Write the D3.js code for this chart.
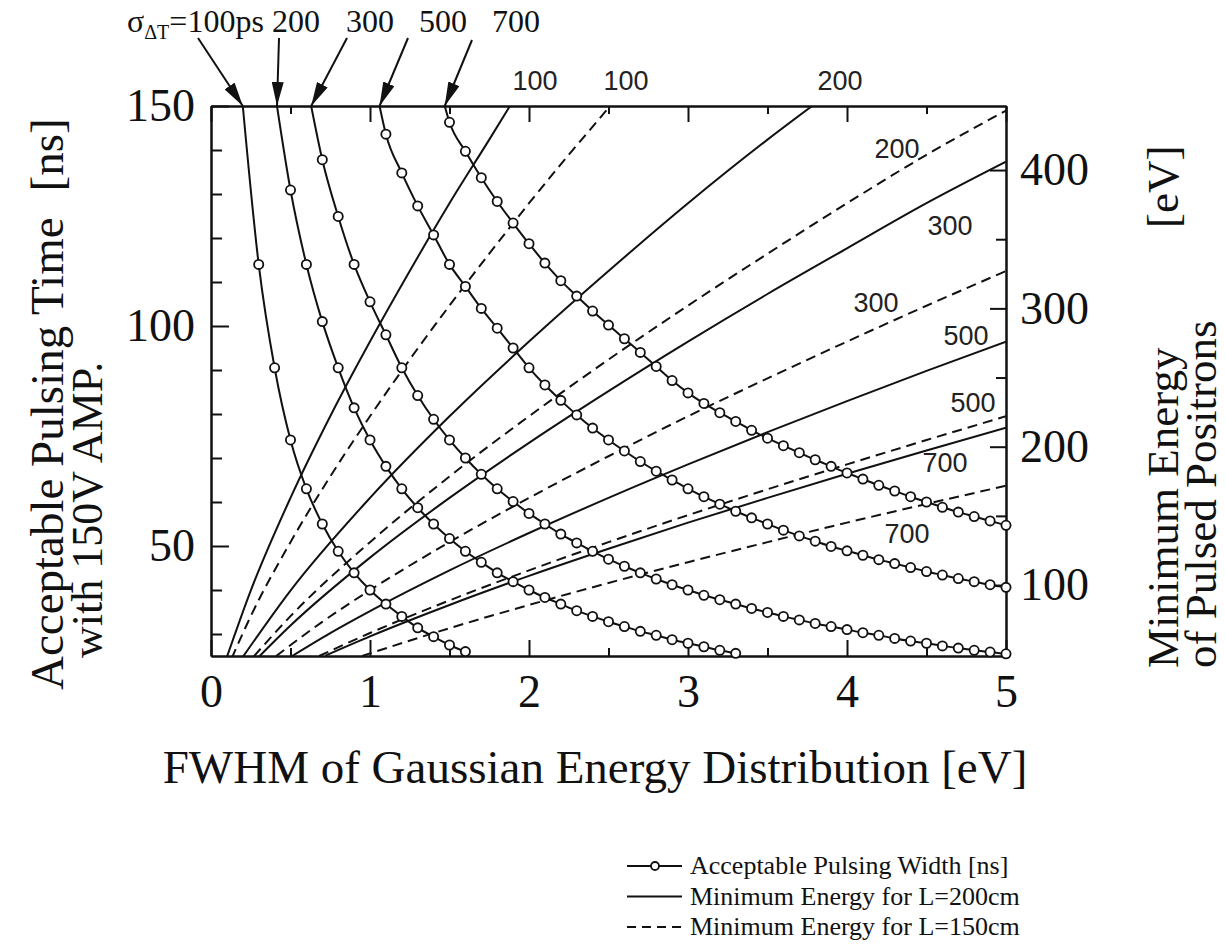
<!DOCTYPE html>
<html lang="en">
<head>
<meta charset="UTF-8">
<title>Acceptable Pulsing Time vs FWHM</title>
<script src="https://d3js.org/d3.v7.min.js"></script>
<style>
  body { margin: 0; background: #fff; }
  svg { display: block; background: #fff; }
  .serif { font-family: "Liberation Serif", "Times New Roman", serif; fill: #111; }
  .sans { font-family: "Liberation Sans", Arial, sans-serif; fill: #222; }
  .curve { fill: none; stroke: #111; stroke-width: 2; }
  .dash { stroke-dasharray: 10,6; }
  .axis path, .axis line { stroke: #111; stroke-width: 2; }
  .dot { fill: #fff; stroke: #111; stroke-width: 1.8; }
</style>
</head>
<body>
<svg width="1225" height="945"></svg>
<script>
// ---- data ----
// acceptable pulsing width [ns] vs FWHM [eV], one series per sigma_dT
const sigmas = [100, 200, 300, 500, 700];

const pw100 = [[0.2,150],[0.3,114],[0.4,90.5],[0.5,74.1],[0.6,63],[0.7,55],[0.8,48.8],[0.9,43.9],
  [1.0,40],[1.1,36.8],[1.2,34],[1.3,31.4],[1.4,29.4],[1.5,27.5],[1.6,26]];

const pw200 = [[0.415,150],[0.5,130.9],[0.6,114],[0.7,101],[0.8,90.5],[0.9,81.4],[1.0,74.1],[1.1,68.1],
  [1.2,63],[1.3,58.7],[1.4,55],[1.5,51.7],[1.6,48.8],[1.7,46.3],[1.8,43.9],[1.9,41.9],[2.0,40],
  [2.1,38.3],[2.2,36.8],[2.3,35.3],[2.4,34],[2.5,32.8],[2.6,31.7],[2.7,30.6],[2.8,29.7],[2.9,28.7],
  [3.0,27.9],[3.1,27.1],[3.2,26.3],[3.3,25.6]];

const pw300 = [[0.63,150],[0.7,137.8],[0.8,124.9],[0.9,114],[1.0,105.5],[1.1,98],[1.2,90.5],[1.3,84.2],
  [1.4,78.8],[1.5,74.1],[1.6,70],[1.7,66.3],[1.8,63],[1.9,60.1],[2.0,57.4],[2.1,55],[2.2,52.7],
  [2.3,50.7],[2.4,48.8],[2.5,47],[2.6,45.4],[2.7,43.9],[2.8,42.5],[2.9,41.2],[3.0,40],[3.1,38.8],
  [3.2,37.8],[3.3,36.8],[3.4,35.8],[3.5,34.9],[3.6,34],[3.7,33.2],[3.8,32.4],[3.9,31.7],[4.0,31],
  [4.1,30.3],[4.2,29.7],[4.3,29],[4.4,28.4],[4.5,27.9],[4.6,27.3],[4.7,26.8],[4.8,26.3],[4.9,25.9],
  [5.0,25.5]];

const pw500 = [[1.06,150],[1.1,143.6],[1.2,134.8],[1.3,127.3],[1.4,120.7],[1.5,114],[1.6,109],[1.7,104],
  [1.8,99.5],[1.9,95],[2.0,90.5],[2.1,86.6],[2.2,83.1],[2.3,79.8],[2.4,76.8],[2.5,74.1],[2.6,71.6],
  [2.7,69.2],[2.8,67],[2.9,65],[3.0,63],[3.1,61.2],[3.2,59.5],[3.3,57.9],[3.4,56.4],[3.5,55],
  [3.6,53.6],[3.7,52.3],[3.8,51.1],[3.9,49.9],[4.0,48.9],[4.1,47.9],[4.2,46.9],[4.3,46],[4.4,45.1],
  [4.5,44.2],[4.6,43.4],[4.7,42.6],[4.8,41.9],[4.9,41.2],[5.0,40.6]];

const pw700 = [[1.47,150],[1.5,146.3],[1.6,139.7],[1.7,133.7],[1.8,128.3],[1.9,123.4],[2.0,118.7],
  [2.1,114.3],[2.2,110.3],[2.3,106.8],[2.4,103.4],[2.5,100.2],[2.6,97.1],[2.7,94],[2.8,90.8],
  [2.9,87.6],[3.0,84.8],[3.1,82.4],[3.2,80.3],[3.3,78.3],[3.4,76.3],[3.5,74.5],[3.6,72.8],[3.7,71.2],
  [3.8,69.6],[3.9,68.1],[4.0,66.6],[4.1,65.2],[4.2,63.8],[4.3,62.5],[4.4,61.2],[4.5,60],[4.6,58.8],
  [4.7,57.7],[4.8,56.7],[4.9,55.7],[5.0,54.7]];

// minimum energy [eV] vs FWHM [eV]; solid = L 200 cm, dashed = L 150 cm
const eS100 = [[0.1,48],[0.25,96],[0.5,163],[0.75,222],[1.0,276],[1.25,327],[1.5,376],[1.75,422],[1.9,450]];
const eS200 = [[0.2,48],[0.5,96],[1.0,163],[1.5,222],[2.0,276],[2.5,327],[3.0,376],[3.5,422],[3.8,448]];
const eS300 = [[0.3,48],[0.5,70.7],[1.0,119.8],[1.5,163],[2.0,202.8],[2.5,240.2],[3.0,276],[3.5,310.4],
  [4.0,343.4],[4.5,376],[5.0,406]];
const eS500 = [[0.51,48.7],[0.75,65.3],[1.0,81.2],[1.5,110.6],[2.0,137.6],[2.5,163],[3.0,187.2],[3.5,210.5],
  [4.0,233],[4.5,254.8],[5.0,276]];
const eS700 = [[0.72,49],[1.0,62.9],[1.5,85.6],[2.0,106.6],[2.5,126.2],[3.0,145.1],[3.5,163],[4.0,180.4],
  [4.5,197.3],[5.0,213.8]];

const eD100 = [[0.13,47],[0.25,77.5],[0.5,131],[0.75,178.5],[1.0,222],[1.25,263],[1.5,302],[1.75,339.5],
  [2.0,376],[2.25,411],[2.5,445],[2.55,452]];
const eD200 = [[0.27,48.5],[0.5,77.5],[1.0,131],[1.5,178.5],[2.0,222],[2.5,263],[3.0,302],[3.5,339.5],
  [4.0,376],[4.5,411],[5.0,443]];
const eD300 = [[0.41,48.7],[0.7,73.4],[1.0,96.3],[1.5,131],[2.0,163],[2.5,193.1],[3.0,222],[3.5,249.4],
  [4.0,276],[4.5,301.9],[5.0,327]];
const eD500 = [[0.68,48.7],[1.0,65.3],[1.5,88.9],[2.0,110.6],[2.5,131],[3.0,150.5],[3.5,169.2],[4.0,187.2],
  [4.5,204.8],[5.0,222]];
const eD700 = [[0.95,48.7],[1.5,68.8],[2.0,85.6],[2.5,101.5],[3.0,116.5],[3.5,131],[4.0,145.1],[4.5,158.6],
  [5.0,171.8]];

// ticks
const xMajor = [0, 1, 2, 3, 4, 5];
const xMinor = [0.5, 1.5, 2.5, 3.5, 4.5];
const tMajor = [50, 100, 150];
const tMinor = [30, 40, 60, 70, 80, 90, 110, 120, 130, 140];
const eMajor = [100, 200, 300, 400];
const eMinor = [150, 250, 350];

// ---- layout ----
const svg = d3.select("svg");
const plot = { left: 211, right: 1006, top: 106, bottom: 656 };

const x = d3.scaleLinear().domain([0, 5]).range([plot.left, plot.right]);
const yT = d3.scaleLinear().domain([25, 150]).range([plot.bottom, plot.top]);
const yE = d3.scaleLinear().domain([48.7, 446.3]).range([plot.bottom, plot.top]);

svg.append("defs").append("clipPath").attr("id", "clip")
  .append("rect")
  .attr("x", plot.left).attr("y", plot.top)
  .attr("width", plot.right - plot.left).attr("height", plot.bottom - plot.top);

svg.select("defs").append("marker")
  .attr("id", "arrow")
  .attr("viewBox", "0 0 20 10")
  .attr("refX", 20).attr("refY", 5)
  .attr("markerUnits", "userSpaceOnUse")
  .attr("markerWidth", 24).attr("markerHeight", 12)
  .attr("orient", "auto")
  .append("path").attr("d", "M0,0 L20,5 L0,10 Z").attr("fill", "#111");

// axes, ticks pointing inward
function addAxis(axis, tx, ty) {
  const g = svg.append("g").attr("class", "axis")
    .attr("transform", `translate(${tx},${ty})`)
    .call(axis);
  g.selectAll("text")
    .attr("class", "serif")
    .attr("font-size", 46)
    .attr("font-family", null);
  return g;
}
addAxis(d3.axisLeft(yT).tickValues(tMinor).tickSizeInner(-11).tickSizeOuter(0).tickFormat(""), plot.left, 0);
addAxis(d3.axisLeft(yT).tickValues(tMajor).tickSizeInner(-18).tickSizeOuter(0).tickPadding(16)
  .tickFormat(d3.format("d")), plot.left, 0);
addAxis(d3.axisBottom(x).tickValues(xMinor).tickSizeInner(-8).tickSizeOuter(0).tickFormat(""), 0, plot.bottom);
addAxis(d3.axisBottom(x).tickValues(xMajor).tickSizeInner(-16).tickSizeOuter(0).tickPadding(18)
  .tickFormat(d3.format("d")), 0, plot.bottom);
addAxis(d3.axisTop(x).tickValues(xMinor).tickSizeInner(-8).tickSizeOuter(0).tickFormat(""), 0, plot.top);
addAxis(d3.axisTop(x).tickValues(xMajor).tickSizeInner(-16).tickSizeOuter(0).tickFormat(""), 0, plot.top);
addAxis(d3.axisRight(yE).tickValues(eMinor).tickSizeInner(-10).tickSizeOuter(0).tickFormat(""), plot.right, 0);
addAxis(d3.axisRight(yE).tickValues(eMajor).tickSizeInner(-16).tickSizeOuter(0).tickPadding(14)
  .tickFormat(d3.format("d")), plot.right, 0);

// curves
const lines = svg.append("g").attr("clip-path", "url(#clip)");
const eLine = d3.line().x(d => x(d[0])).y(d => yE(d[1])).curve(d3.curveMonotoneX);
const tLine = d3.line().x(d => x(d[0])).y(d => yT(d[1])).curve(d3.curveMonotoneX);

[eS100, eS200, eS300, eS500, eS700].forEach(s => {
  lines.append("path").attr("class", "curve").attr("d", eLine(s));
});
[eD100, eD200, eD300, eD500, eD700].forEach(s => {
  lines.append("path").attr("class", "curve dash").attr("d", eLine(s));
});

const pwSeries = [pw100, pw200, pw300, pw500, pw700];
pwSeries.forEach(s => {
  lines.append("path").attr("class", "curve").attr("d", tLine(s));
});
pwSeries.forEach(s => {
  svg.append("g").selectAll("circle")
    .data(s.slice(1))
    .join("circle")
    .attr("class", "dot")
    .attr("cx", d => x(d[0]))
    .attr("cy", d => yT(d[1]))
    .attr("r", 4.6);
});

// sigma annotations with arrows at the top
const arrowTails = [[198, 38], [279, 38], [347, 38], [408, 38], [472, 40]];
pwSeries.forEach((s, i) => {
  svg.append("line")
    .attr("x1", arrowTails[i][0]).attr("y1", arrowTails[i][1])
    .attr("x2", x(s[0][0])).attr("y2", yT(s[0][1]))
    .attr("stroke", "#111").attr("stroke-width", 2)
    .attr("marker-end", "url(#arrow)");
});

const sig = svg.append("text").attr("class", "serif").attr("font-size", 32)
  .attr("x", 127).attr("y", 32);
sig.append("tspan").text("σ");
sig.append("tspan").attr("font-size", 20).attr("dy", 7).text("ΔT");
sig.append("tspan").attr("dy", -7).text("=" + sigmas[0] + "ps");

const sigX = [null, 296, 370, 443, 516];
sigmas.forEach((v, i) => {
  if (i === 0) return;
  svg.append("text").attr("class", "serif").attr("font-size", 32)
    .attr("text-anchor", "middle").attr("x", sigX[i]).attr("y", 32).text(v);
});

// labels on the energy lines
const lineLabels = [
  ["100", 535, 90], ["100", 626, 90], ["200", 840, 90], ["200", 897, 158],
  ["300", 950, 235], ["300", 876, 312], ["500", 966, 345], ["500", 973, 412],
  ["700", 945, 472], ["700", 907, 543]
];
lineLabels.forEach(d => {
  svg.append("text").attr("class", "sans").attr("font-size", 27)
    .attr("text-anchor", "middle").attr("x", d[1]).attr("y", d[2]).text(d[0]);
});

// axis titles
svg.append("text").attr("class", "serif").attr("font-size", 47)
  .attr("text-anchor", "middle").attr("x", 595).attr("y", 783)
  .text("FWHM of Gaussian Energy Distribution [eV]");

const lt = svg.append("text").attr("class", "serif").attr("font-size", 47)
  .attr("transform", "translate(63,690) rotate(-90)");
lt.append("tspan").text("Acceptable Pulsing Time");
lt.append("tspan").attr("dx", 26).text("[ns]");
svg.append("text").attr("class", "serif").attr("font-size", 44)
  .attr("transform", "translate(102,658) rotate(-90)")
  .text("with 150V AMP.");

svg.append("text").attr("class", "serif").attr("font-size", 45)
  .attr("transform", "translate(1178,668) rotate(-90)")
  .text("Minimum Energy");
svg.append("text").attr("class", "serif").attr("font-size", 45)
  .attr("transform", "translate(1216,668) rotate(-90)")
  .text("of Pulsed Positrons");
svg.append("text").attr("class", "serif").attr("font-size", 45)
  .attr("transform", "translate(1178,228) rotate(-90)")
  .text("[eV]");

// legend
const legendItems = [
  { label: "Acceptable Pulsing Width [ns]", dash: null, dot: true },
  { label: "Minimum Energy for L=200cm", dash: null, dot: false },
  { label: "Minimum Energy for L=150cm", dash: "9,6", dot: false }
];
const lg = svg.append("g").attr("transform", "translate(627,866)");
legendItems.forEach((d, i) => {
  const row = lg.append("g").attr("transform", `translate(0,${i * 30.5})`);
  row.append("line").attr("x1", 0).attr("x2", 55).attr("y1", 0).attr("y2", 0)
    .attr("stroke", "#111").attr("stroke-width", 2)
    .attr("stroke-dasharray", d.dash);
  if (d.dot) row.append("circle").attr("class", "dot").attr("cx", 28).attr("cy", 0).attr("r", 4);
  row.append("text").attr("class", "serif").attr("font-size", 26)
    .attr("x", 63).attr("y", 8).text(d.label);
});
</script>
</body>
</html>
